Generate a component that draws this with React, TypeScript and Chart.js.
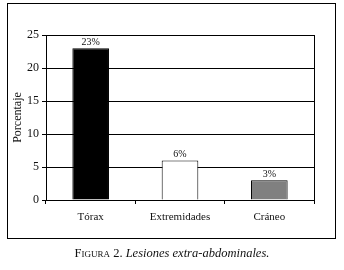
import React, { useEffect, useRef } from "react";
import { Chart, registerables } from "chart.js";

Chart.register(...registerables);

const categories = ["Tórax", "Extremidades", "Cráneo"];
const values = [23, 6, 3];
const valueLabels = ["23%", "6%", "3%"];
const barColors = ["#000000", "#ffffff", "#808080"];
const yTicks = [0, 5, 10, 15, 20, 25];

const FONT = "'Liberation Serif', 'Times New Roman', serif";

const labelPlugin = {
  id: "valueLabels",
  afterDatasetsDraw(chart: any) {
    const ctx = chart.ctx;
    const meta = chart.getDatasetMeta(0);
    ctx.save();
    ctx.fillStyle = "#111";
    ctx.font = `10px ${FONT}`;
    ctx.textAlign = "center";
    ctx.textBaseline = "bottom";
    meta.data.forEach((bar: any, i: number) => {
      ctx.fillText(valueLabels[i], bar.x, bar.y - 1);
    });
    ctx.restore();
  },
};

const rightBorderPlugin = {
  id: "rightBorder",
  afterDraw(chart: any) {
    const { ctx, chartArea } = chart;
    ctx.save();
    ctx.strokeStyle = "#000";
    ctx.lineWidth = 1;
    ctx.beginPath();
    const x = Math.round(chartArea.right) + 0.5;
    ctx.moveTo(x, chartArea.top);
    ctx.lineTo(x, chartArea.bottom);
    ctx.stroke();
    ctx.restore();
  },
};

export default function App() {
  const ref = useRef<HTMLCanvasElement | null>(null);

  useEffect(() => {
    if (!ref.current) return;
    const chart = new Chart(ref.current, {
      type: "bar",
      data: {
        labels: categories,
        datasets: [
          {
            data: values,
            backgroundColor: barColors,
            borderColor: "#000",
            borderWidth: 1,
            barPercentage: 0.41,
            categoryPercentage: 1,
          },
        ],
      },
      options: {
        animation: false,
        responsive: false,
        devicePixelRatio: 1,
        layout: { padding: { left: 7, right: 30, top: 35, bottom: 40 } },
        plugins: {
          legend: { display: false },
          tooltip: { enabled: false },
        },
        scales: {
          x: {
            offset: true,
            grid: {
              offset: true,
              drawOnChartArea: false,
              drawTicks: true,
              tickLength: 4,
              color: "#000",
            },
            border: { color: "#000", width: 1 },
            ticks: {
              color: "#111",
              font: { family: FONT, size: 11 },
              padding: 7,
              maxRotation: 0,
            },
            afterFit(scale: any) {
              scale.height = 30;
            },
          },
          y: {
            min: 0,
            max: 25,
            afterBuildTicks(scale: any) {
              scale.ticks = yTicks.map((v) => ({ value: v }));
            },
            grid: { color: "#000", tickLength: 4, lineWidth: 1 },
            border: { color: "#000", width: 1 },
            ticks: {
              color: "#111",
              font: { family: FONT, size: 12 },
              padding: 3,
            },
            title: {
              display: true,
              text: "Porcentaje",
              color: "#111",
              font: { family: FONT, size: 12 },
              padding: { top: 4, bottom: 4 },
            },
            afterFit(scale: any) {
              scale.width = 39;
            },
          },
        },
      },
      plugins: [labelPlugin, rightBorderPlugin],
    });
    return () => chart.destroy();
  }, []);

  return (
    <div
      style={{
        position: "absolute",
        left: 0,
        top: 0,
        width: 344,
        height: 270,
        background: "#fff",
        fontFamily: FONT,
      }}
    >
      <div
        style={{
          position: "absolute",
          left: 7,
          top: 3,
          width: 327,
          height: 234,
          border: "1px solid #000",
        }}
      />
      <canvas
        ref={ref}
        width={344}
        height={270}
        style={{ position: "absolute", left: 0, top: 0, width: 344, height: 270 }}
      />
      <div
        style={{
          position: "absolute",
          left: 0,
          top: 245,
          width: 344,
          textAlign: "center",
          fontSize: 12.5,
          color: "#111",
          lineHeight: "16px",
        }}
      >
        <span style={{ fontVariant: "small-caps" }}>Figura</span> 2.{" "}
        <i>Lesiones extra-abdominales.</i>
      </div>
    </div>
  );
}
